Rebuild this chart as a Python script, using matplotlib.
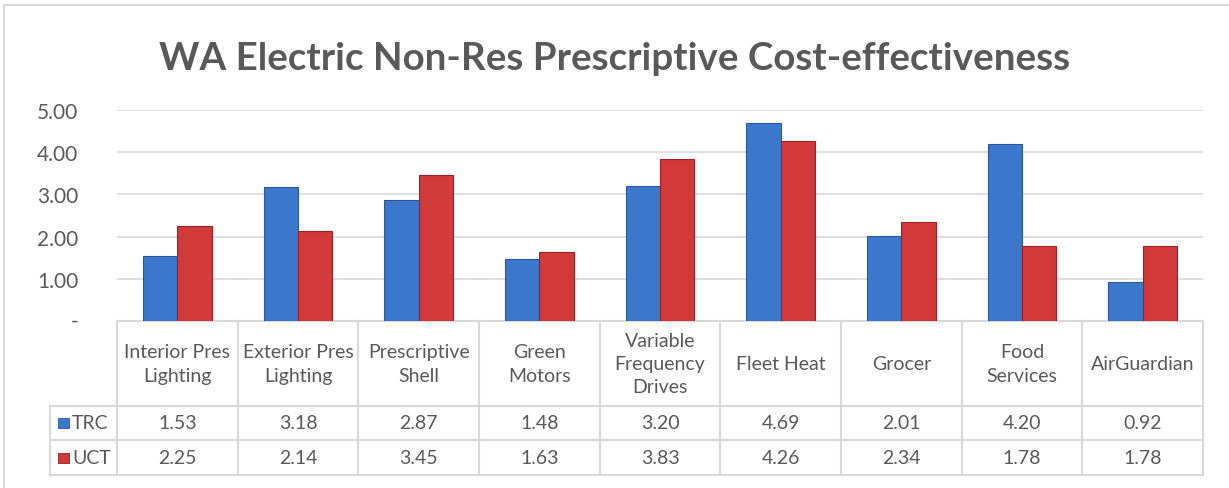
"""Grouped bar chart with an Excel-style data table underneath."""

import matplotlib

matplotlib.use("Agg")
import matplotlib.pyplot as plt
from matplotlib.lines import Line2D
from matplotlib.patches import Rectangle
import numpy as np

categories = [
    "Interior Pres\nLighting",
    "Exterior Pres\nLighting",
    "Prescriptive\nShell",
    "Green\nMotors",
    "Variable\nFrequency\nDrives",
    "Fleet Heat",
    "Grocer",
    "Food\nServices",
    "AirGuardian",
]
trc = [1.53, 3.18, 2.87, 1.48, 3.20, 4.69, 2.01, 4.20, 0.92]
uct = [2.25, 2.14, 3.45, 1.63, 3.83, 4.26, 2.34, 1.78, 1.78]
series_names = ["TRC", "UCT"]
y_ticks = [0, 1, 2, 3, 4, 5]
y_tick_labels = ["", "1.00", "2.00", "3.00", "4.00", "5.00"]
zero_label = "-"

BLUE = "#3b78cc"
BLUE_EDGE = "#28579a"
RED = "#d23a3a"
RED_EDGE = "#9c2222"
TEXT = "#595959"
GRID = "#d9d9d9"
FONT = "Lato"

W, H = 1229, 489
fig = plt.figure(figsize=(W / 100, H / 100), dpi=100)
plt.rcParams["font.family"] = [FONT, "DejaVu Sans"]

# plot area in pixels: left 117, right 1203, top 111, bottom 322
left, right, top, bottom = 117, 1203, 111, 322
ax = fig.add_axes([left / W, 1 - bottom / H, (right - left) / W, (bottom - top) / H])

x = np.arange(len(categories))
bw = 0.285
ax.bar(x - bw / 2, trc, bw, color=BLUE, edgecolor=BLUE_EDGE, linewidth=0.8, zorder=3)
ax.bar(x + bw / 2, uct, bw, color=RED, edgecolor=RED_EDGE, linewidth=0.8, zorder=3)

ax.set_xlim(-0.5, len(categories) - 0.5)
ax.set_ylim(0, 5)
ax.set_yticks(y_ticks)
ax.set_yticklabels(y_tick_labels, fontsize=15, color=TEXT)
ax.tick_params(axis="y", length=0, pad=28)
ax.set_xticks([])
ax.yaxis.grid(True, color=GRID, linewidth=1.2, zorder=0)
for s in ax.spines.values():
    s.set_visible(False)

# accounting-style zero: a dash sitting left of the number column
ax.text(75 / W, 0, zero_label, transform=ax.get_yaxis_transform().__class__(
    fig.transFigure, ax.transData), ha="center", va="center", fontsize=15, color=TEXT)

fig.text(0.5, 1 - 59 / H, "WA Electric Non-Res Prescriptive Cost-effectiveness",
         ha="center", va="center", fontsize=27.7, fontweight="bold", color=TEXT)

# data table under the plot area, in data-x / axes-y coordinates
trans = ax.get_xaxis_transform()
ah = bottom - top
row_edges = [0, -(407 - bottom) / ah, -(441 - bottom) / ah, -(476 - bottom) / ah]
legend_left = -0.5 - (left - 50) / ((right - left) / len(categories))
n = len(categories)
line_kw = dict(color=GRID, linewidth=1.5, transform=trans, clip_on=False)

for yy in row_edges:
    x0 = -0.5 if yy == 0 else legend_left
    ax.plot([x0, n - 0.5], [yy, yy], **line_kw)
for i in range(n + 1):
    ax.plot([i - 0.5, i - 0.5], [0, row_edges[-1]], **line_kw)
ax.plot([legend_left, legend_left], [row_edges[1], row_edges[-1]], **line_kw)

for i, cat in enumerate(categories):
    ax.text(i, (row_edges[0] + row_edges[1]) / 2, cat, transform=trans,
            ha="center", va="center", fontsize=14, color=TEXT, linespacing=1.45)

for r, (name, vals, col, edge) in enumerate(
        [(series_names[0], trc, BLUE, BLUE_EDGE), (series_names[1], uct, RED, RED_EDGE)]):
    yc = (row_edges[r + 1] + row_edges[r + 2]) / 2
    for i, v in enumerate(vals):
        ax.text(i, yc, f"{v:.2f}", transform=trans, ha="center", va="center",
                fontsize=14, color=TEXT)
    ypix = bottom + (-yc) * ah
    ax.text(72 / W, 1 - ypix / H, name, transform=fig.transFigure,
            ha="left", va="center", fontsize=14, color=TEXT)
    fig.patches.append(Rectangle((58 / W, 1 - (ypix + 5) / H), 11 / W, 10 / H,
                                 transform=fig.transFigure, facecolor=col,
                                 edgecolor=edge, linewidth=0.6))

# chart border: only the top and left edges fall inside the image
fig.lines.append(Line2D([4 / W, 4 / W, 1], [0, 1 - 6 / H, 1 - 6 / H],
                        transform=fig.transFigure, color=GRID, linewidth=1.5))

fig.savefig("out.png", dpi=100)
